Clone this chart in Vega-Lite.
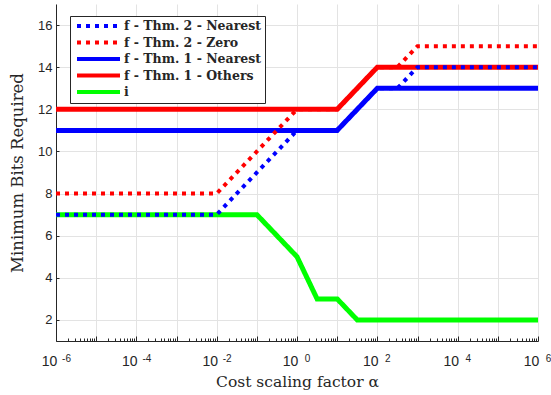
{
  "$schema": "https://vega.github.io/schema/vega-lite/v6.json",
  "width": 482,
  "height": 337,
  "autosize": {"type": "none"},
  "padding": {"left": 56, "top": 4, "right": 13, "bottom": 54},
  "background": "white",
  "config": {
    "view": {"stroke": null},
    "axis": {
      "domainColor": "#262626",
      "domainWidth": 1,
      "tickColor": "#262626",
      "labelColor": "#262626",
      "labelFont": "Liberation Sans",
      "labelFontSize": 13,
      "titleFont": "DejaVu Serif",
      "titleFontSize": 15.5,
      "titleFontWeight": "normal",
      "titleColor": "#262626",
      "gridColor": "#e3e3e3",
      "gridWidth": 1
    }
  },
  "datasets": {
    "lines": [
      {"series": "f - Thm. 2 - Nearest", "alpha": 1e-6, "bits": 7},
      {"series": "f - Thm. 2 - Nearest", "alpha": 0.01, "bits": 7},
      {"series": "f - Thm. 2 - Nearest", "alpha": 1, "bits": 11},
      {"series": "f - Thm. 2 - Nearest", "alpha": 10, "bits": 11},
      {"series": "f - Thm. 2 - Nearest", "alpha": 100, "bits": 13},
      {"series": "f - Thm. 2 - Nearest", "alpha": 316.23, "bits": 13},
      {"series": "f - Thm. 2 - Nearest", "alpha": 1000, "bits": 14},
      {"series": "f - Thm. 2 - Nearest", "alpha": 1e6, "bits": 14},
      {"series": "f - Thm. 2 - Zero", "alpha": 1e-6, "bits": 8},
      {"series": "f - Thm. 2 - Zero", "alpha": 0.01, "bits": 8},
      {"series": "f - Thm. 2 - Zero", "alpha": 1, "bits": 12},
      {"series": "f - Thm. 2 - Zero", "alpha": 10, "bits": 12},
      {"series": "f - Thm. 2 - Zero", "alpha": 100, "bits": 14},
      {"series": "f - Thm. 2 - Zero", "alpha": 316.23, "bits": 14},
      {"series": "f - Thm. 2 - Zero", "alpha": 1000, "bits": 15},
      {"series": "f - Thm. 2 - Zero", "alpha": 1e6, "bits": 15},
      {"series": "f - Thm. 1 - Nearest", "alpha": 1e-6, "bits": 11},
      {"series": "f - Thm. 1 - Nearest", "alpha": 10, "bits": 11},
      {"series": "f - Thm. 1 - Nearest", "alpha": 100, "bits": 13},
      {"series": "f - Thm. 1 - Nearest", "alpha": 1e6, "bits": 13},
      {"series": "f - Thm. 1 - Others", "alpha": 1e-6, "bits": 12},
      {"series": "f - Thm. 1 - Others", "alpha": 10, "bits": 12},
      {"series": "f - Thm. 1 - Others", "alpha": 100, "bits": 14},
      {"series": "f - Thm. 1 - Others", "alpha": 1e6, "bits": 14},
      {"series": "i", "alpha": 1e-6, "bits": 7},
      {"series": "i", "alpha": 0.1, "bits": 7},
      {"series": "i", "alpha": 1, "bits": 5},
      {"series": "i", "alpha": 3.1623, "bits": 3},
      {"series": "i", "alpha": 10, "bits": 3},
      {"series": "i", "alpha": 31.623, "bits": 2},
      {"series": "i", "alpha": 1e6, "bits": 2}
    ]
  },
  "data": {"name": "lines"},
  "encoding": {
    "y": {
      "field": "bits",
      "type": "quantitative",
      "scale": {"domain": [1, 17], "nice": false, "zero": false},
      "axis": {
        "title": "Minimum Bits Required",
        "titleFontSize": 16.5,
        "values": [2, 4, 6, 8, 10, 12, 14, 16],
        "grid": true,
        "tickSize": -3,
        "labelPadding": 7,
        "titlePadding": 12
      }
    },
    "color": {
      "field": "series",
      "type": "nominal",
      "scale": {
        "domain": ["f - Thm. 2 - Nearest", "f - Thm. 2 - Zero", "f - Thm. 1 - Nearest", "f - Thm. 1 - Others", "i"],
        "range": ["#0000ff", "#ff0000", "#0000ff", "#ff0000", "#00ff00"]
      },
      "legend": {
        "orient": "none",
        "legendX": 14,
        "legendY": 12,
        "title": null,
        "strokeColor": "#262626",
        "fillColor": "white",
        "padding": 3,
        "symbolType": "M-0.6,0H8",
        "symbolSize": 100,
        "symbolStrokeWidth": 4,
        "labelFont": "DejaVu Serif",
        "labelFontWeight": "bold",
        "labelFontSize": 12.5,
        "labelColor": "#262626",
        "labelOffset": 37,
        "labelLimit": 300,
        "rowPadding": 0.5
      }
    },
    "strokeDash": {
      "field": "series",
      "type": "nominal",
      "scale": {
        "domain": ["f - Thm. 2 - Nearest", "f - Thm. 2 - Zero", "f - Thm. 1 - Nearest", "f - Thm. 1 - Others", "i"],
        "range": [[4, 5], [4, 5], [1, 0], [1, 0], [1, 0]]
      },
      "legend": {
        "orient": "none",
        "legendX": 14,
        "legendY": 12,
        "title": null,
        "strokeColor": "#262626",
        "fillColor": "white",
        "padding": 3,
        "symbolType": "M-0.6,0H8",
        "symbolSize": 100,
        "symbolStrokeWidth": 4,
        "labelFont": "DejaVu Serif",
        "labelFontWeight": "bold",
        "labelFontSize": 12.5,
        "labelColor": "#262626",
        "labelOffset": 37,
        "labelLimit": 300,
        "rowPadding": 0.5
      }
    }
  },
  "resolve": {"axis": {"x": "independent"}},
  "layer": [
    {
      "transform": [{"filter": "datum.series === 'i'"}],
      "mark": {"type": "line", "strokeWidth": 5, "strokeCap": "butt", "clip": true},
      "encoding": {
        "x": {
          "field": "alpha", "type": "quantitative",
          "scale": {"type": "log", "domain": [1e-6, 1e6], "nice": false},
          "axis": {
            "orient": "bottom",
            "title": null,
            "labels": false,
            "values": [1e-6,2e-6,3e-6,4e-6,5e-6,6e-6,7e-6,8e-6,9e-6,
                       1e-5,2e-5,3e-5,4e-5,5e-5,6e-5,7e-5,8e-5,9e-5,
                       1e-4,2e-4,3e-4,4e-4,5e-4,6e-4,7e-4,8e-4,9e-4,
                       1e-3,2e-3,3e-3,4e-3,5e-3,6e-3,7e-3,8e-3,9e-3,
                       1e-2,2e-2,3e-2,4e-2,5e-2,6e-2,7e-2,8e-2,9e-2,
                       0.1,0.2,0.3,0.4,0.5,0.6,0.7,0.8,0.9,
                       1,2,3,4,5,6,7,8,9,
                       10,20,30,40,50,60,70,80,90,
                       100,200,300,400,500,600,700,800,900,
                       1000,2000,3000,4000,5000,6000,7000,8000,9000,
                       1e4,2e4,3e4,4e4,5e4,6e4,7e4,8e4,9e4,
                       1e5,2e5,3e5,4e5,5e5,6e5,7e5,8e5,9e5,
                       1e6],
            "grid": true,
            "gridOpacity": {"condition": {"test": "abs(log(datum.value)/LN10 - round(log(datum.value)/LN10)) < 0.001", "value": 1}, "value": 0},
            "tickSize": {"condition": {"test": "abs(log(datum.value)/LN10 - round(log(datum.value)/LN10)) < 0.001", "value": -5}, "value": -3}
          }
        }
      }
    },
    {
      "transform": [{"filter": "datum.series === 'f - Thm. 1 - Others'"}],
      "mark": {"type": "line", "strokeWidth": 5, "strokeCap": "butt", "clip": true},
      "encoding": {
        "x": {
          "field": "alpha", "type": "quantitative",
          "scale": {"type": "log", "domain": [1e-6, 1e6], "nice": false},
          "axis": {
            "orient": "bottom",
            "title": "Cost scaling factor α",
            "titlePadding": 6,
            "values": [1e-6, 1e-4, 1e-2, 1, 100, 1e4, 1e6],
            "labelExpr": "'10'",
            "labelFontSize": 14,
            "labelBaseline": "alphabetic",
            "labelPadding": 24,
            "labelOffset": -7,
            "labelFlush": false,
            "labelOverlap": false,
            "labelBound": false,
            "ticks": false,
            "tickSize": 0,
            "domain": false,
            "grid": false
          }
        }
      }
    },
    {
      "transform": [{"filter": "datum.series === 'f - Thm. 1 - Nearest'"}],
      "mark": {"type": "line", "strokeWidth": 5, "strokeCap": "butt", "clip": true},
      "encoding": {
        "x": {
          "field": "alpha", "type": "quantitative",
          "scale": {"type": "log", "domain": [1e-6, 1e6], "nice": false},
          "axis": {
            "orient": "bottom",
            "title": null,
            "values": [1e-6, 1e-4, 1e-2, 1, 100, 1e4, 1e6],
            "labelExpr": "'' + round(log(datum.value)/LN10)",
            "labelFontSize": 10,
            "labelBaseline": "alphabetic",
            "labelPadding": 20,
            "labelOffset": 10,
            "labelFlush": false,
            "labelOverlap": false,
            "labelBound": false,
            "ticks": false,
            "tickSize": 0,
            "domain": false,
            "grid": false
          }
        }
      }
    },
    {
      "transform": [{"filter": "datum.series === 'f - Thm. 2 - Zero'"}],
      "mark": {"type": "line", "strokeWidth": 4, "strokeCap": "butt", "clip": true},
      "encoding": {
        "x": {
          "field": "alpha", "type": "quantitative",
          "scale": {"type": "log", "domain": [1e-6, 1e6], "nice": false},
          "axis": null
        }
      }
    },
    {
      "transform": [{"filter": "datum.series === 'f - Thm. 2 - Nearest'"}],
      "mark": {"type": "line", "strokeWidth": 4, "strokeCap": "butt", "clip": true},
      "encoding": {
        "x": {
          "field": "alpha", "type": "quantitative",
          "scale": {"type": "log", "domain": [1e-6, 1e6], "nice": false},
          "axis": null
        }
      }
    }
  ]
}
